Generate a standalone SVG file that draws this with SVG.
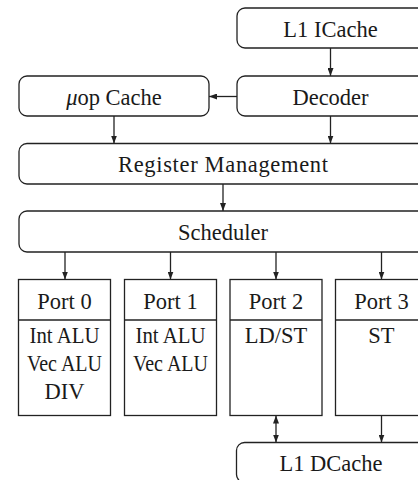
<svg xmlns="http://www.w3.org/2000/svg" width="418" height="480" viewBox="0 0 418 480">
<defs>
<marker id="ah" viewBox="0 0 8 6" refX="8" refY="3" markerWidth="8" markerHeight="6" markerUnits="userSpaceOnUse" orient="auto-start-reverse">
<path d="M0,0 L8,3 L0,6 z" fill="#222"/>
</marker>
<style>
.box{fill:#fff;stroke:#222;stroke-width:1.3}
.t{font-family:"Liberation Serif",serif;font-size:22.5px;fill:#1a1a1a;text-anchor:middle}
.c{stroke:#222;stroke-width:1.3;fill:none;marker-end:url(#ah)}
</style>
</defs>
<rect width="418" height="480" fill="#fff"/>
<g id="connectors">
<line class="c" x1="330.5" y1="48" x2="330.5" y2="76"/>
<line class="c" x1="237" y1="96.5" x2="209" y2="96.5"/>
<line class="c" x1="114" y1="116" x2="114" y2="143.5"/>
<line class="c" x1="330.5" y1="116" x2="330.5" y2="143.5"/>
<line class="c" x1="223" y1="184" x2="223" y2="211"/>
<line class="c" x1="65" y1="252" x2="65" y2="279.5"/>
<line class="c" x1="170.5" y1="252" x2="170.5" y2="279.5"/>
<line class="c" x1="276" y1="252" x2="276" y2="279.5"/>
<line class="c" x1="381.5" y1="252" x2="381.5" y2="279.5"/>
<line class="c" x1="276" y1="415.5" x2="276" y2="442.5" style="marker-start:url(#ah)"/>
<line class="c" x1="381.5" y1="415.5" x2="381.5" y2="442.5"/>
</g>
<g id="l1icache">
<rect class="box" x="237" y="8" width="190" height="40" rx="8"/>
<text class="t" x="330.5" y="36.5">L1 ICache</text>
</g>
<g id="decoder">
<rect class="box" x="237" y="76" width="190" height="40" rx="8"/>
<text class="t" x="330.5" y="104.5">Decoder</text>
</g>
<g id="uopcache">
<rect class="box" x="19" y="76" width="190" height="40" rx="8"/>
<text class="t" x="114" y="104.5"><tspan font-style="italic">μ</tspan>op Cache</text>
</g>
<g id="regmgmt">
<rect class="box" x="19" y="143.5" width="410" height="40.5" rx="8"/>
<text class="t" x="223" y="171.5" textLength="210" lengthAdjust="spacing">Register Management</text>
</g>
<g id="scheduler">
<rect class="box" x="19" y="211" width="410" height="41" rx="8"/>
<text class="t" x="223" y="239.5">Scheduler</text>
</g>
<g id="port0">
<rect class="box" x="18.5" y="279.5" width="92" height="136"/>
<line x1="18.5" y1="320" x2="110.5" y2="320" stroke="#222" stroke-width="1.3"/>
<text class="t" x="64.5" y="308.5">Port 0</text>
<text class="t" x="64.5" y="343" textLength="70" lengthAdjust="spacingAndGlyphs">Int ALU</text>
<text class="t" x="64.5" y="371" textLength="75" lengthAdjust="spacingAndGlyphs">Vec ALU</text>
<text class="t" x="64.5" y="399">DIV</text>
</g>
<g id="port1">
<rect class="box" x="124.5" y="279.5" width="92" height="136"/>
<line x1="124.5" y1="320" x2="216.5" y2="320" stroke="#222" stroke-width="1.3"/>
<text class="t" x="170.5" y="308.5">Port 1</text>
<text class="t" x="170.5" y="343" textLength="70" lengthAdjust="spacingAndGlyphs">Int ALU</text>
<text class="t" x="170.5" y="371" textLength="75" lengthAdjust="spacingAndGlyphs">Vec ALU</text>
</g>
<g id="port2">
<rect class="box" x="230" y="279.5" width="92" height="136"/>
<line x1="230" y1="320" x2="322" y2="320" stroke="#222" stroke-width="1.3"/>
<text class="t" x="276" y="308.5">Port 2</text>
<text class="t" x="276" y="343">LD/ST</text>
</g>
<g id="port3">
<rect class="box" x="335.5" y="279.5" width="92" height="136"/>
<line x1="335.5" y1="320" x2="427.5" y2="320" stroke="#222" stroke-width="1.3"/>
<text class="t" x="381.5" y="308.5">Port 3</text>
<text class="t" x="381.5" y="343">ST</text>
</g>
<g id="l1dcache">
<rect class="box" x="236.5" y="442.5" width="190" height="40" rx="8"/>
<text class="t" x="331" y="471">L1 DCache</text>
</g>
</svg>
